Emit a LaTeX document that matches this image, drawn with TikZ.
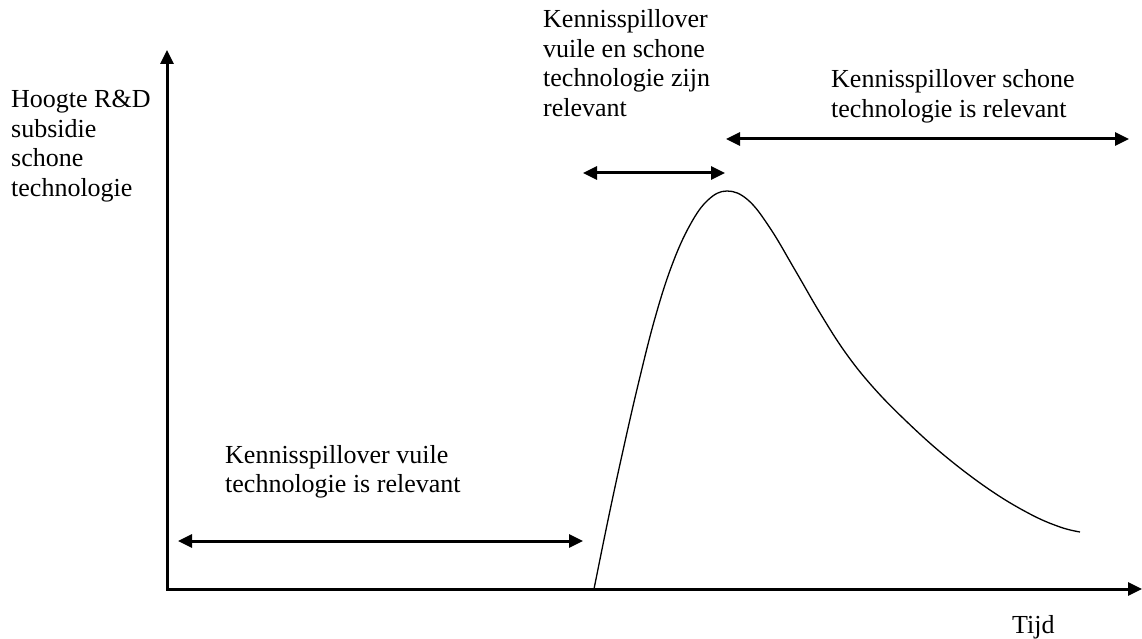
\documentclass[tikz,border=0pt]{standalone}
\usepackage{fontspec}
\setmainfont{Liberation Serif}
\usetikzlibrary{arrows.meta}

\begin{document}
\begin{tikzpicture}[
  x=1pt,y=-1pt,
  lbl/.style={anchor=base west,inner sep=0pt,align=left,font=\fontsize{26}{29.5}\selectfont},
  axis/.style={{Triangle[length=14pt,width=13pt]}-{Triangle[length=14pt,width=13pt]},line width=3pt},
  span/.style={{Triangle[length=14pt,width=13pt]}-{Triangle[length=14pt,width=13pt]},line width=3pt},
  curve/.style={line width=1.3pt}
]
\useasboundingbox (0,0) rectangle (1142,639);
% axes
\coordinate (ytop) at (167,50);
\coordinate (xend) at (1142,589);
\draw[axis] (ytop) |- (xend);
% labels (anchored on the last line)
\node[lbl] (ylabel) at (11,196.5) {Hoogte R\&D\\subsidie\\schone\\technologie};
\node[lbl] (bothlabel) at (543,116.5) {Kennisspillover\\vuile en schone\\technologie zijn\\relevant};
\node[lbl] (cleanlabel) at (831,117.5) {Kennisspillover schone\\technologie is relevant};
\node[lbl] (dirtylabel) at (225,492.5) {Kennisspillover vuile\\technologie is relevant};
\node[lbl] (xlabel) at (1012,633) {Tijd};
% periods
\coordinate (dirtyL) at (178,541);
\coordinate (dirtyR) at (583,541);
\coordinate (bothL) at (583,173);
\coordinate (bothR) at (725,173);
\coordinate (cleanL) at (726,139);
\coordinate (cleanR) at (1129,139);
\draw[span] (dirtyL) -- (dirtyR);
\draw[span] (bothL) -- (bothR);
\draw[span] (cleanL) -- (cleanR);
% subsidy path
\draw[curve] plot[smooth,tension=0.65] coordinates {(594,589) (608,520) (622,455) (638,385)
  (655,318) (672,265) (690,225) (708,200) (727,191) (748,200) (770,228) (795,270)
  (820,313) (845,352) (872,386) (905,420) (945,456) (990,490) (1030,514) (1060,527) (1080,532)};
\end{tikzpicture}
\end{document}
